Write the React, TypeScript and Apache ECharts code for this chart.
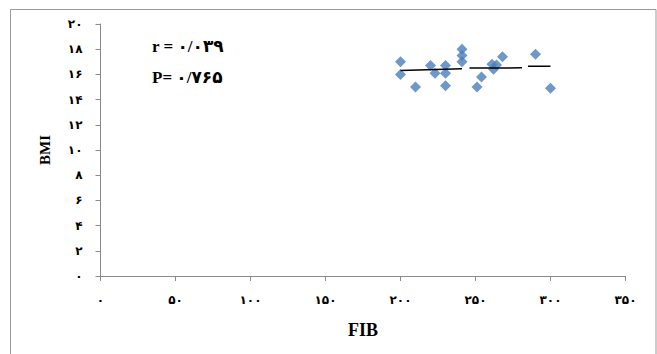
import React, { useEffect, useRef } from "react";
import * as echarts from "echarts";

const fibValues = [200, 200, 210, 220, 223, 230, 230, 230, 241, 241, 241, 251, 254, 261, 262, 264, 268, 290, 300];
const bmiValues = [17.0, 16.0, 15.0, 16.7, 16.1, 16.7, 16.1, 15.1, 18.0, 17.5, 17.0, 15.0, 15.8, 16.8, 16.4, 16.75, 17.4, 17.6, 14.9];
const trendSeg1 = [[200, 16.3], [241, 16.45]];
const trendSeg2 = [[246, 16.5], [281, 16.52]];
const trendSeg3 = [[285, 16.65], [300, 16.65]];
const xAxisTitle = "FIB";
const yAxisTitle = "BMI";
const annotR = "r = ۰/۰۳۹";
const annotP = "P= ۰/۷۶۵";

const persianDigits = ["۰", "۱", "۲", "۳", "۴", "۵", "۶", "۷", "۸", "۹"];
const toPersian = (v: number | string) =>
  String(v).replace(/[0-9]/g, (d) => persianDigits[Number(d)]);

const FONT = "'Liberation Serif', 'DejaVu Sans', serif";

export default function App() {
  const ref = useRef<HTMLDivElement>(null);
  useEffect(() => {
    if (!ref.current) return;
    const chart = echarts.init(ref.current, undefined, { renderer: "svg" });
    const axisCommon = {
      axisLine: { show: true, lineStyle: { color: "#8a8a8a", width: 1 } },
      axisTick: { show: true, inside: false, length: 5, lineStyle: { color: "#8a8a8a" } },
      splitLine: { show: false },
      axisLabel: {
        formatter: (v: number) => toPersian(v),
        fontFamily: FONT,
        fontWeight: "bold" as const,
        fontSize: 12,
        color: "#000",
        margin: 18,
      },
    };
    const lineSeries = (data: number[][]) => ({
      type: "line" as const,
      data,
      symbol: "none",
      lineStyle: { color: "#000", width: 1.5 },
      z: 3,
    });
    chart.setOption({
      animation: false,
      grid: { left: 100.5, right: 31.5, top: 24, bottom: 78 },
      xAxis: {
        type: "value",
        min: 0,
        max: 350,
        interval: 50,
        name: xAxisTitle,
        nameLocation: "middle",
        nameGap: 45,
        nameTextStyle: { fontFamily: FONT, fontWeight: "bold", fontSize: 18, color: "#000" },
        ...axisCommon,
      },
      yAxis: {
        type: "value",
        min: 0,
        max: 20,
        interval: 2,
        name: yAxisTitle,
        nameLocation: "middle",
        nameGap: 48,
        nameTextStyle: { fontFamily: FONT, fontWeight: "bold", fontSize: 15, color: "#000" },
        ...axisCommon,
      },
      graphic: [
        {
          type: "rect",
          shape: { x: 10.5, y: 9.5, width: 645.5, height: 400 },
          style: { fill: "none", stroke: "#9a9a9a", lineWidth: 1 },
          silent: true,
        },
        {
          type: "text",
          x: 152,
          y: 46,
          style: { text: annotR, font: `bold 17px ${FONT}`, fill: "#000", verticalAlign: "middle" },
        },
        {
          type: "text",
          x: 152,
          y: 77,
          style: { text: annotP, font: `bold 17px ${FONT}`, fill: "#000", verticalAlign: "middle" },
        },
      ],
      series: [
        {
          type: "scatter",
          data: fibValues.map((f, i) => [f, bmiValues[i]]),
          symbol: "diamond",
          symbolSize: 11,
          itemStyle: { color: "#4a7ebb" },
          z: 2,
        },
        lineSeries(trendSeg1),
        lineSeries(trendSeg2),
        lineSeries(trendSeg3),
      ],
    });
    return () => chart.dispose();
  }, []);
  return (
    <div
      ref={ref}
      style={{ position: "fixed", left: 0, top: 0, width: 657, height: 354, background: "#fff" }}
    />
  );
}
